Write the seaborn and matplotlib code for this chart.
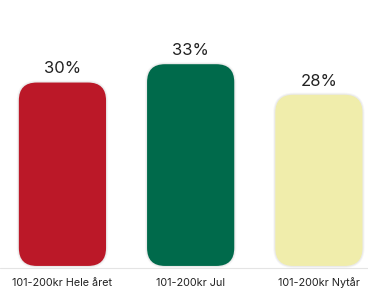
import pandas as pd
import numpy as np
import seaborn as sns
import matplotlib.pyplot as plt
from matplotlib.patches import FancyBboxPatch

sns.set_style('white')
plt.rcParams['font.family'] = ['Inter', 'DejaVu Sans']

categories = ["101-200kr Hele året", "101-200kr Jul", "101-200kr Nytår"]
values = [30, 33, 28]
palette = ["#BB1828", "#006A4B", "#F0EDAB"]

df = pd.DataFrame({"category": categories, "value": values})

fig = plt.figure(figsize=(3.68, 2.91), dpi=100)
ax = fig.add_axes([0, 0, 1, 1])

sns.barplot(data=df, x="category", y="value", hue="category", palette=palette,
            width=0.68, legend=False, ax=ax)

ax.set_xlim(-0.487, 2.383)
ax.set_ylim(-4.1, 43.5)

# swap the plain bars for rounded ones
radius_x = 0.14
aspect = (1 / 6.12) / (1 / 128.25)
for bar, col in zip(list(ax.patches), palette):
    x, w, h = bar.get_x(), bar.get_width(), bar.get_height()
    bar.remove()
    for lw, a in [(3.0, 0.03), (1.6, 0.05)]:
        ax.add_patch(FancyBboxPatch((x, 0), w, h,
                                    boxstyle=f"round,pad=0,rounding_size={radius_x}",
                                    mutation_aspect=aspect, facecolor="none",
                                    edgecolor="#000000", linewidth=lw, alpha=a, zorder=2))
    ax.add_patch(FancyBboxPatch((x, 0), w, h,
                                boxstyle=f"round,pad=0,rounding_size={radius_x}",
                                mutation_aspect=aspect, facecolor=col,
                                edgecolor="none", zorder=3))
    ax.text(x + w / 2, h + 1.0, f"{h:.0f}%", ha="center", va="bottom",
            fontsize=12, color="#222222")

ax.axhline(-0.35, color="#E4E4E4", linewidth=0.8, zorder=1)

for i, lab in enumerate(categories):
    ax.text(i, -2.75, lab, ha="center", va="center", fontsize=7.8, color="#222222")

ax.set_xticks([])
ax.set_yticks([])
ax.set_xlabel("")
ax.set_ylabel("")
sns.despine(ax=ax, left=True, bottom=True)

plt.savefig("out.png", dpi=100)
plt.close()
